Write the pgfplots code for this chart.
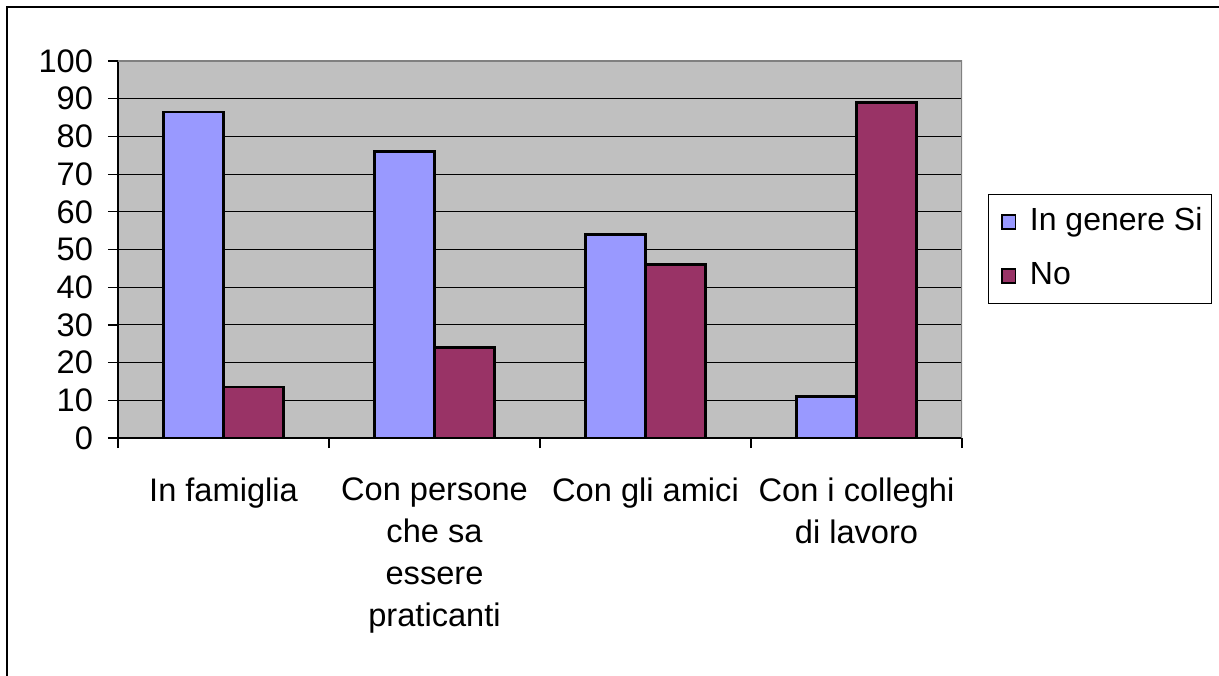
\documentclass[border=0pt]{standalone}
\usepackage{fontspec}
\setmainfont{Liberation Sans}
\usepackage{pgfplots}
\pgfplotsset{compat=1.18}
\definecolor{si}{HTML}{9999FF}
\definecolor{no}{HTML}{993366}
\definecolor{bg}{HTML}{C0C0C0}
\definecolor{frm}{HTML}{808080}
\begin{document}
\begin{tikzpicture}[x=1pt,y=1pt]
\useasboundingbox (0,0) rectangle (609.5,337.5);
\clip (0,0) rectangle (609.5,337.5);
\draw[line width=1.3pt] (3.5,-20) -- (3.5,334) -- (640,334);
\begin{axis}[
  at={(59pt,118.5pt)}, anchor=south west,
  width=422pt, height=188.5pt, scale only axis,
  xmin=0.5, xmax=4.5, ymin=0, ymax=100,
  axis background/.style={fill=bg},
  axis x line*=bottom, axis y line*=left,
  axis line style={black, line width=0.8pt},
  ybar=0pt, bar width=30pt,
  xtick={1,2,3,4},
  xticklabels={In famiglia, {Con persone\\che sa\\essere\\praticanti}, Con gli amici, {Con i colleghi\\di lavoro}},
  minor xtick={0.5,1.5,2.5,3.5,4.5},
  major x tick style={draw=none},
  minor x tick style={black, line width=0.6pt},
  tick align=outside,
  major tick length=5pt, minor tick length=5pt,
  ytick={0,10,...,100},
  y tick style={black, line width=0.6pt},
  ymajorgrids, grid style={black, line width=0.55pt},
  /pgf/number format/assume math mode=true,
  tick label style={font=\fontsize{16.3}{21}\selectfont},
  xticklabel style={align=center, yshift=-11.5pt},
  yticklabel style={xshift=-4pt},
  legend style={at={(rel axis cs:1.0308,0.647)}, anchor=north west,
    draw=black, line width=0.5pt, font=\fontsize{16}{19}\selectfont,
    inner xsep=2.5pt, inner ysep=1pt, row sep=1.5pt,
    nodes={inner xsep=2pt, inner ysep=5pt, text height=12pt, text depth=3.5pt},
    legend cell align=left},
  legend image code/.code={\path (0pt,0pt);\draw[#1, draw=black, line width=0.8pt] (3.5pt,-3.4pt) rectangle (10.3pt,3.4pt);\path (15pt,0);},
]
\draw[frm, line width=1pt] (rel axis cs:0,1) -- (rel axis cs:1,1) -- (rel axis cs:1,0);
\addplot[fill=si, draw=black, line width=1.2pt] coordinates {(1,86.5) (2,76) (3,54) (4,11)};
\addplot[fill=no, draw=black, line width=1.2pt] coordinates {(1,13.5) (2,24) (3,46) (4,89)};
\legend{In genere Si, No}
\end{axis}
\end{tikzpicture}
\end{document}
